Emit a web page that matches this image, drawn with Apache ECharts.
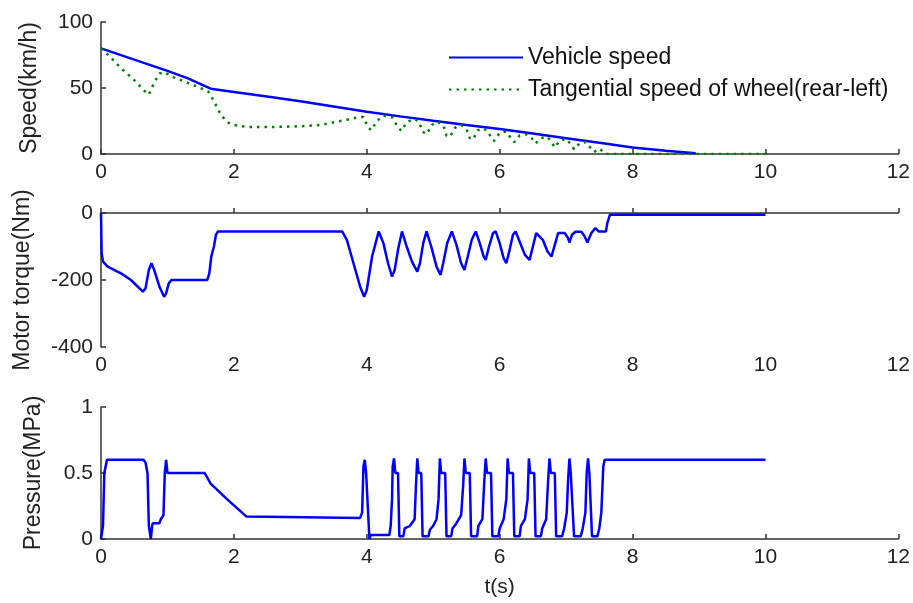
<!DOCTYPE html>
<html>
<head>
<meta charset="utf-8">
<script src="https://cdn.jsdelivr.net/npm/echarts@6/dist/echarts.min.js"></script>
<style>
  html, body { margin: 0; padding: 0; background: #fff; }
  #chart { width: 913px; height: 603px; }
</style>
</head>
<body>
<div id="chart"></div>
<script>
// [t(s), value] pairs
const vehicleSpeed = [
  [0, 80], [0.5, 71.5], [1, 63], [1.3, 57.5], [1.65, 49.5], [2, 47], [2.5, 43.5],
  [3, 40], [3.5, 36], [4, 32], [4.5, 28.5], [5, 25.2], [5.5, 22], [6, 19],
  [6.5, 15.5], [7, 12], [7.5, 8.5], [8, 5], [8.5, 2.5], [8.95, 0.5]
];
const wheelSpeed = [
  [0, 80], [0.15, 73], [0.3, 65], [0.5, 56], [0.65, 48], [0.72, 45], [0.8, 54],
  [0.88, 61], [0.95, 62], [1.1, 58], [1.3, 54], [1.5, 50], [1.62, 47], [1.7, 40],
  [1.8, 30], [1.9, 24], [2.0, 22], [2.2, 20.5], [2.6, 20.5], [3.0, 21], [3.3, 22],
  [3.5, 24], [3.7, 26], [3.9, 28], [3.95, 28], [4.02, 20], [4.07, 18], [4.15, 25],
  [4.25, 29], [4.38, 28], [4.47, 20], [4.52, 17.5], [4.6, 24], [4.7, 26.5],
  [4.78, 25], [4.84, 17], [4.9, 15], [4.98, 22], [5.06, 24.5], [5.15, 22],
  [5.2, 14], [5.25, 13], [5.33, 20], [5.42, 22], [5.5, 19], [5.55, 12], [5.6, 11],
  [5.67, 18], [5.75, 19.5], [5.83, 17], [5.88, 11], [5.92, 10], [6.0, 16],
  [6.1, 17], [6.17, 12], [6.22, 9], [6.3, 14], [6.4, 15], [6.48, 12], [6.54, 8],
  [6.62, 12], [6.72, 13], [6.78, 9], [6.83, 5], [6.9, 10], [7.0, 11.5], [7.08, 7],
  [7.12, 3.5], [7.2, 8], [7.3, 9], [7.36, 5], [7.42, 1.5], [7.5, 4], [7.55, 2],
  [7.6, 0], [10, 0]
];
const motorTorque = [
  [0, 0], [0.01, -120], [0.03, -145], [0.1, -160], [0.3, -180], [0.45, -200],
  [0.63, -235], [0.67, -225], [0.72, -170], [0.76, -150], [0.8, -170], [0.88, -220],
  [0.95, -250], [0.98, -240], [1.02, -210], [1.06, -200], [1.6, -200], [1.63, -180],
  [1.66, -130], [1.7, -100], [1.73, -65], [1.76, -55], [3.63, -55], [3.7, -80],
  [3.8, -150], [3.9, -220], [3.96, -250], [4.0, -230], [4.08, -130], [4.18, -55],
  [4.25, -90], [4.32, -150], [4.38, -190], [4.42, -170], [4.47, -110], [4.53, -55],
  [4.6, -100], [4.68, -145], [4.76, -175], [4.8, -150], [4.85, -90], [4.9, -55],
  [4.97, -100], [5.05, -160], [5.11, -185], [5.15, -150], [5.21, -90], [5.28, -55],
  [5.35, -95], [5.42, -150], [5.47, -170], [5.52, -130], [5.58, -80], [5.64, -55],
  [5.7, -90], [5.76, -130], [5.79, -140], [5.84, -100], [5.9, -60], [5.94, -55],
  [6.0, -90], [6.06, -135], [6.1, -150], [6.15, -110], [6.2, -65], [6.24, -55],
  [6.3, -85], [6.38, -125], [6.45, -140], [6.5, -100], [6.55, -60], [6.58, -55],
  [6.65, -80], [6.72, -115], [6.78, -130], [6.83, -95], [6.88, -60], [6.91, -55],
  [6.98, -60], [7.03, -75], [7.05, -88], [7.09, -65], [7.14, -56], [7.23, -56],
  [7.28, -70], [7.32, -88], [7.38, -60], [7.44, -45], [7.49, -55], [7.6, -55],
  [7.62, -30], [7.66, -5], [10, -5]
];
const brakePressure = [
  [0, 0], [0.03, 0.1], [0.05, 0.5], [0.08, 0.5], [0.09, 0.6], [0.64, 0.6],
  [0.67, 0.58], [0.7, 0.5], [0.72, 0.1], [0.75, 0], [0.77, 0.1], [0.78, 0.12],
  [0.88, 0.12], [0.9, 0.15], [0.94, 0.18], [0.96, 0.5], [0.98, 0.6], [1.0, 0.5],
  [1.56, 0.5], [1.65, 0.42], [1.9, 0.3], [2.19, 0.17], [2.22, 0.16], [3.9, 0.16],
  [3.93, 0.2], [3.95, 0.55], [3.97, 0.6], [3.99, 0.5], [4.02, 0.5], [4.04, 0],
  [4.06, 0.03], [4.34, 0.03], [4.36, 0.1], [4.38, 0.3], [4.39, 0.55], [4.41, 0.61],
  [4.43, 0.5], [4.47, 0.5], [4.49, 0.02], [4.55, 0.02], [4.57, 0.08], [4.65, 0.1],
  [4.72, 0.15], [4.74, 0.4], [4.76, 0.61], [4.78, 0.5], [4.82, 0.5], [4.84, 0.02],
  [4.93, 0.02], [4.95, 0.07], [5.0, 0.1], [5.05, 0.15], [5.08, 0.3], [5.10, 0.61],
  [5.12, 0.5], [5.18, 0.5], [5.20, 0.02], [5.27, 0.02], [5.29, 0.08], [5.35, 0.12],
  [5.42, 0.18], [5.45, 0.4], [5.47, 0.61], [5.49, 0.5], [5.55, 0.5], [5.57, 0.02],
  [5.66, 0.02], [5.68, 0.1], [5.74, 0.15], [5.77, 0.45], [5.79, 0.61], [5.81, 0.5],
  [5.87, 0.5], [5.89, 0.02], [5.98, 0.02], [6.0, 0.08], [6.06, 0.15], [6.10, 0.3],
  [6.12, 0.61], [6.14, 0.5], [6.20, 0.5], [6.22, 0.02], [6.30, 0.02], [6.32, 0.1],
  [6.38, 0.15], [6.42, 0.3], [6.44, 0.61], [6.46, 0.5], [6.52, 0.5], [6.54, 0.02],
  [6.62, 0.02], [6.64, 0.08], [6.70, 0.15], [6.73, 0.45], [6.75, 0.61], [6.77, 0.5],
  [6.83, 0.5], [6.85, 0.02], [6.94, 0.02], [6.97, 0.08], [7.01, 0.2], [7.03, 0.45],
  [7.05, 0.61], [7.07, 0.5], [7.10, 0.5], [7.12, 0.02], [7.22, 0.02], [7.25, 0.08],
  [7.29, 0.2], [7.31, 0.5], [7.33, 0.61], [7.35, 0.5], [7.37, 0.5], [7.39, 0.02],
  [7.47, 0.02], [7.50, 0.08], [7.53, 0.2], [7.56, 0.55], [7.58, 0.6], [10, 0.6]
];

const seriesNames = ["Vehicle speed", "Tangential speed of wheel(rear-left)"];
const yNames = ["Speed(km/h)", "Motor torque(Nm)", "Pressure(MPa)"];
const yRanges = [[0, 100, 50], [-400, 0, 200], [0, 1, 0.5]];

const FONT = "Liberation Sans";
const axisColor = "#333";

let chart = echarts.init(document.getElementById("chart"));

const grids = [
  { left: 101, right: 12, top: 22, height: 132 },
  { left: 101, right: 12, top: 213, height: 134 },
  { left: 101, right: 12, top: 407, height: 132 },
];
const nameGaps = [60, 67, 56];

const xAxes = grids.map((g, i) => ({
  type: "value",
  gridIndex: i,
  min: 0,
  max: 12,
  interval: 2,
  name: i === 2 ? "t(s)" : "",
  nameLocation: "middle",
  nameGap: 38,
  nameTextStyle: { color: "#222", fontSize: 21, fontFamily: FONT },
  axisLine: { show: true, lineStyle: { color: axisColor, width: 1.5 } },
  axisTick: { show: true, inside: true, length: 5, lineStyle: { color: axisColor, width: 1.5 } },
  axisLabel: { color: "#222", fontSize: 21, fontFamily: FONT, margin: 8 },
  splitLine: { show: false },
}));

const yAxes = grids.map((g, i) => ({
  type: "value",
  gridIndex: i,
  min: yRanges[i][0],
  max: yRanges[i][1],
  interval: yRanges[i][2],
  name: yNames[i],
  nameLocation: "middle",
  nameGap: nameGaps[i],
  nameRotate: 90,
  nameTextStyle: { color: "#222", fontSize: 23, fontFamily: FONT },
  axisLine: { show: true, onZero: false, lineStyle: { color: axisColor, width: 1.5 } },
  axisTick: { show: true, inside: true, length: 5, lineStyle: { color: axisColor, width: 1.5 } },
  axisLabel: { color: "#222", fontSize: 21, fontFamily: FONT, margin: 8 },
  splitLine: { show: false },
}));

const blueLine = { color: "#0000ff", width: 2.5 };

let option = {
  animation: false,
  backgroundColor: "#fff",
  grid: grids,
  xAxis: xAxes,
  yAxis: yAxes,
  legend: {
    left: 443,
    top: 41,
    orient: "vertical",
    itemWidth: 74,
    itemHeight: 14,
    itemGap: 9,
    data: seriesNames,
    itemStyle: { opacity: 0 },
    textStyle: { color: "#111", fontSize: 23, fontFamily: FONT },
  },
  series: [
    {
      name: seriesNames[0],
      type: "line",
      xAxisIndex: 0,
      yAxisIndex: 0,
      data: vehicleSpeed,
      symbol: "none",
      itemStyle: { color: "#0000ff" },
      lineStyle: blueLine,
    },
    {
      name: seriesNames[1],
      type: "line",
      xAxisIndex: 0,
      yAxisIndex: 0,
      data: wheelSpeed,
      symbol: "none",
      itemStyle: { color: "#008000" },
      lineStyle: { color: "#008000", width: 2.5, type: [2.5, 5] },
    },
    {
      type: "line",
      xAxisIndex: 1,
      yAxisIndex: 1,
      data: motorTorque,
      symbol: "none",
      lineStyle: blueLine,
    },
    {
      type: "line",
      xAxisIndex: 2,
      yAxisIndex: 2,
      data: brakePressure,
      symbol: "none",
      lineStyle: blueLine,
    },
  ],
};
chart.setOption(option);
</script>
</body>
</html>
